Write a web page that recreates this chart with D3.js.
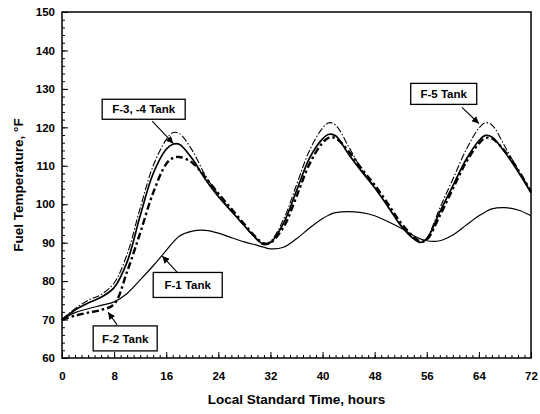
<!DOCTYPE html>
<html>
<head>
<meta charset="utf-8">
<script src="https://cdn.jsdelivr.net/npm/d3@7"></script>
<style>
  body { margin: 0; background: #fff; }
  text { font-family: "Liberation Sans", Arial, sans-serif; font-weight: bold; fill: #000; }
</style>
</head>
<body>
<svg id="svg" width="540" height="414"></svg>
<script>
(function() {

    const svg = d3.select('#svg')
    const width = 540, height = 414, marginLeft = 62,
    marginRight = 9, marginTop = 12, marginBottom = 56

    // hours (shared by all series)
    const hours = [0,2,4,6,8,10,12,14,16,17,18,20,22,24,26,28,30,31,32,34,36,38,40,41,42,44,46,48,50,52,54,55,56,58,60,62,64,65,66,68,70,72]

    const f1 = [70,71.8,72.8,73.7,74.6,76.8,80.3,84,88,90,91.7,93,93.2,92.5,91.3,90.2,89.3,88.8,88.4,88.8,91,93.8,96.3,97.2,97.8,98.1,97.8,97,95.5,93.8,91.8,91,90.5,90.5,92,94.5,97,98,98.8,99.1,98.5,97]
    const f34 = [70,72.5,74.3,75.8,78.3,85,97,108,114.3,115.6,115.6,111.8,106.5,102,98.2,94.4,90.8,89.5,90,95,103.5,112,117,118.2,117.8,113,108.5,104.3,99.5,94.5,91,90.1,91,98,104.8,111.5,116.5,117.9,117.5,113.5,108.5,103]
    const f5 = [70,72.8,75,76.5,79.5,87,99,110,116.8,118.6,118.4,114,107.5,102.5,98.3,94.3,90.6,89.5,90.3,96,105,114,119.8,121.2,120.6,115,109,104.5,99.5,94.5,91,90,91.2,99,106.5,114,119.8,121.2,120.6,115,109,103.5]
    const f2 = [70,71,71.8,72.5,74,82.5,92.5,103,110.5,112,112.3,110.8,107,102.8,98.8,94.8,91,89.8,90,94,102,110.5,116,117.3,117.2,113.8,109.2,105,100.2,95.2,91.5,90.3,90.8,97,104,110.8,115.8,117.2,117.1,113.8,109,103.3]

    const xTicks = [0,8,16,24,32,40,48,56,64,72]
    const yTicks = [60,70,80,90,100,110,120,130,140,150]

    // annotation boxes: label, box centre, arrow start, arrow tip (data units)
    const notes = [
        { label: 'F-3, -4 Tank', box: [12.54, 124.7], w: 83, h: 20, from: [13.85, 121.6], to: [17.08, 115.8] },
        { label: 'F-5 Tank', box: [58.6, 128.7], w: 66, h: 21, from: [61.4, 125.2], to: [64.0, 121.0] },
        { label: 'F-1 Tank', box: [19.3, 79.0], w: 69, h: 25, from: [17.7, 82.3], to: [15.4, 86.5] },
        { label: 'F-2 Tank', box: [9.7, 65.1], w: 64, h: 25, from: [8.46, 68.6], to: [7.08, 71.9] }
    ]

    const x = d3.scaleLinear().domain([0, 72]).range([marginLeft, width - marginRight])
    const y = d3.scaleLinear().domain([60, 150]).range([height - marginBottom, marginTop])

    // arrow marker
    svg.append('defs').append('marker')
        .attr('id', 'arrow')
        .attr('viewBox', '0 0 10 10')
        .attr('refX', 10)
        .attr('refY', 5)
        .attr('markerWidth', 8)
        .attr('markerHeight', 7)
        .attr('markerUnits', 'userSpaceOnUse')
        .attr('orient', 'auto')
        .append('path')
            .attr('d', 'M0,0 L10,5 L0,10 z')
            .style('fill', '#000')

    // minor ticks
    svg.append('g')
        .attr('transform', `translate(0,${height - marginBottom})`)
        .call(d3.axisBottom(x).tickValues(d3.range(0, 73, 1)).tickSize(-3).tickFormat(''))
    svg.append('g')
        .attr('transform', `translate(${marginLeft},0)`)
        .call(d3.axisLeft(y).tickValues(d3.range(60, 151, 2)).tickSize(-3).tickFormat(''))

    // major ticks + labels
    const xAxis = svg.append('g')
        .attr('transform', `translate(0,${height - marginBottom})`)
        .call(d3.axisBottom(x).tickValues(xTicks).tickSize(-6).tickPadding(14))
    const yAxis = svg.append('g')
        .attr('transform', `translate(${marginLeft},0)`)
        .call(d3.axisLeft(y).tickValues(yTicks).tickSize(-6).tickPadding(7))

    svg.selectAll('.tick line').style('stroke', '#000').style('stroke-width', 1)
    svg.selectAll('.domain').remove()
    svg.selectAll('.tick text')
        .style('font-family', '"Liberation Sans", Arial, sans-serif')
        .style('font-weight', 'bold')
        .style('font-size', '11.5px')

    // frame
    svg.append('rect')
        .attr('x', marginLeft)
        .attr('y', marginTop)
        .attr('width', width - marginRight - marginLeft)
        .attr('height', height - marginBottom - marginTop)
        .style('fill', 'none')
        .style('stroke', '#000')
        .style('stroke-width', 1.5)

    // lines
    const series = [
        { values: f1, width: 1.2, dash: null },
        { values: f5, width: 1.1, dash: '7,2,1.5,2' },
        { values: f2, width: 2.4, dash: '7,3,2.5,3' },
        { values: f34, width: 1.7, dash: null }
    ]

    const line = d3.line()
        .x((d, i) => x(hours[i]))
        .y(d => y(d))
        .curve(d3.curveCatmullRom.alpha(0.5))

    svg.selectAll('.series')
        .data(series)
        .enter()
        .append('path')
            .attr('class', 'series')
            .attr('d', d => line(d.values))
            .style('fill', 'none')
            .style('stroke', '#000')
            .style('stroke-width', d => d.width)
            .style('stroke-dasharray', d => d.dash)

    // annotation arrows and boxes
    notes.forEach(n => {
        svg.append('line')
            .attr('x1', x(n.from[0]))
            .attr('y1', y(n.from[1]))
            .attr('x2', x(n.to[0]))
            .attr('y2', y(n.to[1]))
            .style('stroke', '#000')
            .style('stroke-width', 1.1)
            .attr('marker-end', 'url(#arrow)')

        svg.append('rect')
            .attr('x', x(n.box[0]) - n.w / 2)
            .attr('y', y(n.box[1]) - n.h / 2)
            .attr('width', n.w)
            .attr('height', n.h)
            .style('fill', '#fff')
            .style('stroke', '#000')
            .style('stroke-width', 1.3)

        svg.append('text')
            .attr('x', x(n.box[0]))
            .attr('y', y(n.box[1]))
            .attr('dy', '0.36em')
            .attr('text-anchor', 'middle')
            .style('font-size', '11.5px')
            .text(n.label)
    })

    // axis titles
    svg.append('text')
        .attr('x', (marginLeft + width - marginRight) / 2)
        .attr('y', 404)
        .attr('text-anchor', 'middle')
        .style('font-size', '13.5px')
        .text('Local Standard Time, hours')

    svg.append('text')
        .attr('transform', `translate(23,${(marginTop + height - marginBottom) / 2}) rotate(-90)`)
        .attr('text-anchor', 'middle')
        .style('font-size', '13.5px')
        .text('Fuel Temperature, °F')

})();
</script>
</body>
</html>
